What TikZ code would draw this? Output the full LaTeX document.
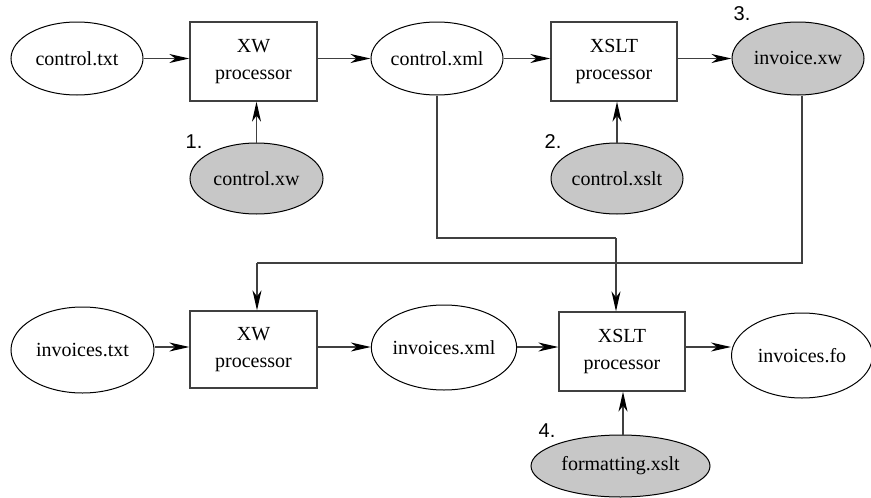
\documentclass[tikz,border=0pt]{standalone}
\usepackage{fontspec}
\setmainfont{Liberation Serif}
\newfontfamily\numfont{Liberation Sans}
\usetikzlibrary{shapes.geometric,arrows.meta}
\tikzset{
  doc/.style={ellipse,draw=black,line width=1pt,inner sep=0pt,font=\fontsize{20}{24}\selectfont},
  srcdoc/.style={doc,fill=black!22},
  proc/.style={rectangle,draw=black!75,line width=1.3pt,inner sep=0pt,minimum width=127pt,minimum height=79pt,align=center,font=\fontsize{20}{27}\selectfont},
  flow/.style={draw=black!75,line width=1.3pt},
  tipE/.tip={Stealth[length=20pt,width=9pt,inset=6pt,black]},
  link/.style={draw=black!75,line width=1.3pt},
  num/.style={inner sep=0pt,font=\numfont\fontsize{20}{24}\selectfont}
}
\begin{document}
\begin{tikzpicture}[x=1pt,y=-1pt]
\useasboundingbox (0,0) rectangle (871,498);
% top row
\node[doc,minimum width=132pt,minimum height=73pt] (ctxt) at (77,58.5) {control.txt};
\node[proc] (xw1) at (253.5,61.5) {XW\\processor};
\node[doc,minimum width=132pt,minimum height=73pt] (cxml) at (437,58.5) {control.xml};
\node[proc,minimum width=126pt] (xslt1) at (614,61.5) {XSLT\\processor};
\node[srcdoc,minimum width=132pt,minimum height=73pt] (invxw) at (798,58.5) {invoice.xw};
\node[srcdoc,minimum width=133pt,minimum height=71pt] (cxw) at (256.5,178.5) {control.xw};
\node[srcdoc,minimum width=132pt,minimum height=71pt] (cxslt) at (617,178.5) {control.xslt};
% bottom row
\node[doc,minimum width=143pt,minimum height=86pt] (itxt) at (82.5,350) {invoices.txt};
\node[proc,minimum height=77pt] (xw2) at (253.5,349.5) {XW\\processor};
\node[doc,minimum width=144pt,minimum height=85pt] (ixml) at (444,347.5) {invoices.xml};
\node[proc,minimum width=126pt] (xslt2) at (622,351.5) {XSLT\\processor};
\node[doc,minimum width=141pt,minimum height=85pt] (ifo) at (802,355.5) {invoices.fo};
\node[srcdoc,minimum width=179pt,minimum height=62pt] (fmt) at (620.5,466) {formatting.xslt};
% numbers
\node[num] (n1) at (194,142) {1.};
\node[num] (n2) at (553,142) {2.};
\node[num] (n3) at (742,14) {3.};
\node[num] (n4) at (547,431) {4.};
% bend points
\coordinate (b1) at (437,238);
\coordinate (b2) at (616,238);
\coordinate (b3) at (802,263);
\coordinate (b4) at (257,263);
% connectors top
\draw[flow,-tipE] (ctxt.east) -- (ctxt.east -| xw1.west);
\draw[flow,-tipE] (xw1.east |- cxml.west) -- (cxml.west);
\draw[flow,-tipE] (cxml.east) -- (cxml.east -| xslt1.west);
\draw[flow,-tipE] (xslt1.east |- invxw.west) -- (invxw.west);
\draw[flow,-tipE] (cxw.north) -- (cxw.north |- xw1.south);
\draw[flow,-tipE] (cxslt.north) -- (cxslt.north |- xslt1.south);
% cross links
\draw[link] (cxml.south) -- (b1) -- (b2);
\draw[flow,-tipE] (b2) -- (b2 |- xslt2.north);
\draw[link] (b3 |- invxw.south) -- (b3) -- (b4);
\draw[flow,-tipE] (b4) -- (b4 |- xw2.north);
% connectors bottom
\draw[flow,-tipE] (itxt.east |- 0,347) -- (xw2.west |- 0,347);
\draw[flow,-tipE] (xw2.east |- 0,347) -- (ixml.west |- 0,347);
\draw[flow,-tipE] (ixml.east |- 0,347) -- (xslt2.west |- 0,347);
\draw[flow,-tipE] (xslt2.east |- 0,347) -- (ifo.west |- 0,347);
\draw[flow,-tipE] (fmt.north -| 623,0) -- (xslt2.south -| 623,0);
\end{tikzpicture}
\end{document}
